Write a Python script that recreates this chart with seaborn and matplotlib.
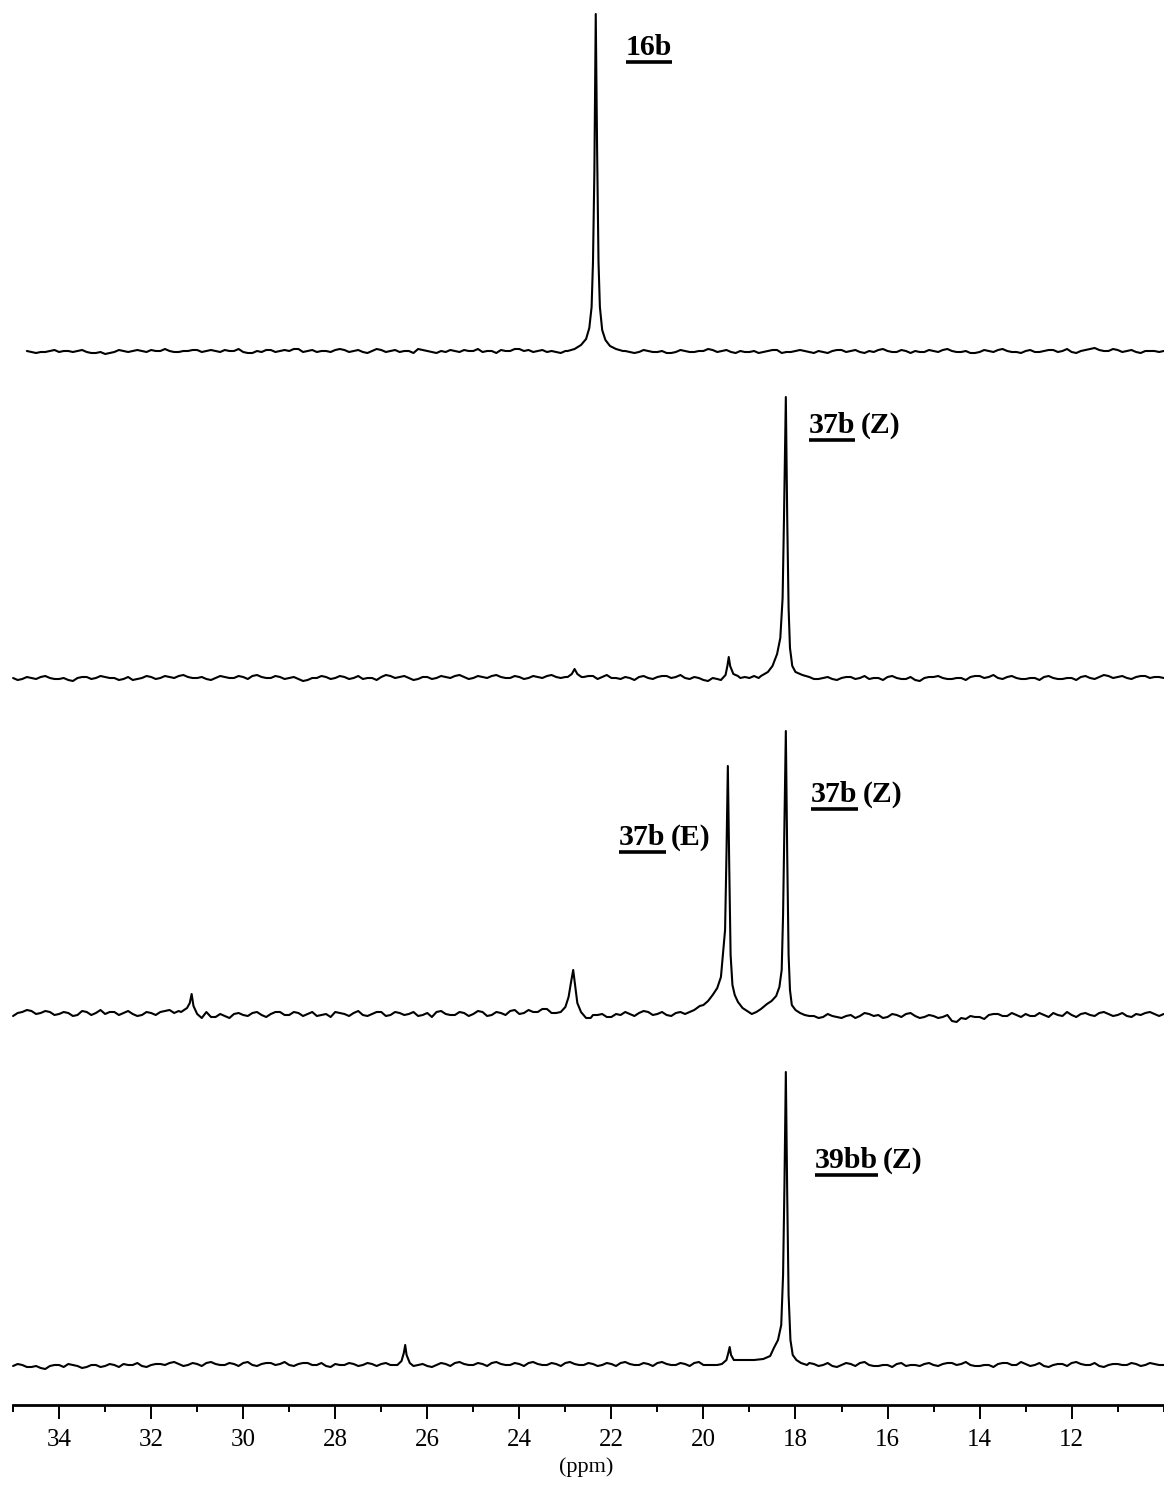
import numpy as np
import pandas as pd
import matplotlib
matplotlib.use("Agg")
import matplotlib.pyplot as plt
from matplotlib.lines import Line2D
import seaborn as sns

# baseline sampling: ppm 35.0 -> 10.0 (0.2 steps) and the in-between points 34.9 -> 10.1
grid_ppm = np.round(35.0 - 0.2 * np.arange(126), 2)
half_ppm = np.round(34.9 - 0.2 * np.arange(125), 2)

# baseline wiggle (pixel-ish units, 0 = baseline)
noise_16b = [0, 0, 0, 0, 1, 0, 1, 1, 0, -1,
             -2, 0, 1, 1, 1, 2, 1, 1, 0, 1,
             2, 1, 1, 2, 1, 0, -1, 0, 2, 1,
             1, 3, 1, 0, 1, 2, 2, 1, 0, 1,
             2, 1, 0, 1, 3, 1, -1, 0, 1, 2,
             1, 0, 1, 2, 1, 3, 2, 1, 0, 0,
             1, 2, 1, 0, 0, 0, 0, 0, 0, 1,
             0, -1, 0, 1, 0, 1, 2, 1, 0, 1,
             0, -1, 1, 2, 0, 1, 1, -1, 0, 1,
             2, 1, 0, 1, 2, 1, 0, 1, 1, 0,
             1, 2, 1, 0, -1, 0, 1, 2, 1, 0,
             1, 0, 1, 2, 1, 0, 1, 3, 2, 1,
             2, 1, 0, 1, 1, 1]
half_16b = [0, 1, -1, 0, 2, 1, 0, 2, -1, 0,
            -1, 2, 0, 2, 0, 1, 3, 0, 1, 2,
            0, 2, 0, 1, 3, -1, 1, 2, 0, 2,
            3, 0, 2, 1, 0, 3, 0, 2, -1, 3,
            0, 2, 1, -1, 2, 0, 1, 2, 0, 1,
            3, 1, -1, 1, 3, 1, 0, 2, 1, -1,
            0, 0, 0, 0, 0, 0, 1, -1, 2, 0,
            1, -1, 2, 0, 1, 3, 0, 2, -1, 0,
            1, 0, 2, -1, 0, 2, 0, 1, -1, 2,
            0, 2, -1, 0, 3, 0, 2, -1, 0, 2,
            0, 3, 0, 1, -1, 2, 0, 3, 0, -1,
            2, 0, 2, 0, 3, -1, 2, 4, 1, 3,
            0, 2, -1, 1, 0]

noise_37b = [0, -1, 0, 1, 0, -1, -2, 0, 1, 0,
             1, 0, -1, -2, 0, 1, 0, 1, 2, 1,
             0, -1, 0, 1, 0, 1, 2, 1, 0, 1,
             0, -1, -2, 0, 1, 0, 1, 0, -1, 0,
             1, 2, 1, 0, -1, 1, 0, 1, 2, 1,
             0, 1, 2, 1, 0, 1, 0, 1, 2, 1,
             1, 0, 1, 2, 1, 0, -1, 0, 1, 0,
             1, 2, 1, 0, 1, -2, 0, 0, 0, 0,
             0, 0, 0, 0, 0, 0, 0, -1, 0, -1,
             0, 1, 0, -1, 0, 1, 0, -1, -2, 0,
             1, 0, -1, 0, 1, 2, 1, 0, 1, 0,
             -1, 0, 1, 0, -1, 0, 1, 0, 1, 2,
             1, 0, 1, 2, 1, 0]
half_37b = [-2, 1, -1, 2, -1, 0, -3, 1, -1, 2,
            0, -2, 1, -1, 2, -1, 2, 0, 3, 0,
            1, -2, 2, 0, 2, -1, 3, 0, 2, -1,
            1, -3, 0, 2, -1, 2, -1, 2, 0, -2,
            3, 0, 2, -2, 1, -1, 2, 0, 3, -1,
            2, 0, 3, 0, 2, -1, 2, 0, 3, 0,
            0, 0, 2, -1, 3, 0, 1, -2, 2, -1,
            2, 0, 3, -1, 0, -3, -1, 0, 0, 1,
            2, 0, 0, 0, 0, 0, 0, -1, 1, -2,
            1, -1, 2, 0, -2, 2, -1, 1, -3, 1,
            2, -1, 0, -2, 2, 0, 3, -1, 2, -1,
            0, -2, 2, -1, 0, -2, 2, -1, 3, 0,
            2, -1, 2, 0, 1]

noise_mix = [-1, 3, 4, 2, 3, 1, 2, 0, 3, 2,
             1, 3, 2, 1, 0, 2, 3, 5, 4, 5,
             0, 3, -2, -1, 1, 0, 2, 0, 1, 3,
             0, 2, 1, -1, 1, 3, 1, 2, 0, 1,
             3, 0, 2, 1, -1, 2, 3, 1, 0, 2,
             1, 3, 0, 2, 4, 1, 5, 3, 6, 2,
             0, 0, 0, 0, 1, -2, 0, 1, 2, 3,
             1, 0, 2, 1, 0, 0, 0, 0, 0, 0,
             0, 0, 0, 0, 0, 0, 0, -1, -2, -1,
             -3, 0, -1, 1, 0, -2, 0, 1, -1, -2,
             -1, -2, -6, -3, -1, -2, 0, 1, -1, 0,
             1, -1, 0, 2, -1, 0, 1, 0, 2, 1,
             0, -1, 1, 2, 1, 1]
half_mix = [2, 5, 1, 4, 0, 3, -1, 4, 0, 5,
            3, 0, 4, -1, 3, 0, 4, 2, 6, 0,
            0, -2, 1, -3, 2, -1, 3, -2, 3, 0,
            3, -1, 3, 0, -2, 2, -1, 4, -1, 3,
            -1, 3, 0, 3, 0, -2, 4, 0, 3, -1,
            4, -1, 3, 0, 5, 2, 3, 6, 2, 4,
            0, 0, 0, 0, -2, 1, 3, -1, 4, 0,
            3, -1, 3, 0, 2, 0, 0, 0, 0, 0,
            0, 0, 0, 0, 0, 0, -1, -3, 1, -2,
            -1, -3, 2, -1, -3, 1, -2, 2, -3, 0,
            -3, 0, -7, -4, -2, -4, 1, -1, 2, -2,
            -1, 2, -2, 0, 3, -2, 2, -1, 3, -1,
            2, -2, 0, 3, -1]

noise_39bb = [-1, 0, -2, -3, -1, 0, 1, -1, -2, 0,
              -1, 0, 1, 0, -1, 0, 1, 2, 1, 0,
              1, 2, 1, 0, 1, 2, 0, 1, 2, 1,
              0, 1, 2, 0, -1, 1, 0, 1, 0, 1,
              1, 0, 0, 0, 0, -1, 0, 1, 2, 1,
              0, 1, 2, 1, 0, 1, 2, 1, 0, 1,
              2, 1, 0, 1, 0, 1, 2, 1, 0, 1,
              2, 1, 0, 1, 2, 0, 0, 0, 0, 0,
              0, 0, 0, 0, 0, 0, 0, 1, 0, -1,
              0, 1, 2, 0, -1, 0, 1, -1, 0, 1,
              0, 1, 2, 1, 0, -1, 0, 1, 2, 0,
              1, 0, -1, 0, 1, 2, 1, 0, -1, 0,
              1, 0, 1, 0, 1, 0]
half_39bb = [1, -2, -1, -4, 0, -2, 0, -3, 0, -2,
             1, -2, 0, 2, -2, 1, 0, 3, -1, 2,
             -1, 3, 0, 2, -1, 3, -1, 2, 0, 3,
             -1, 2, 0, 2, -2, 0, 2, -1, 2, -1,
             2, 0, 0, 0, 1, -2, 2, -1, 3, 0,
             2, -1, 3, 0, 2, -1, 3, 0, 2, -1,
             3, 0, 2, -1, 2, -1, 3, 0, 2, -1,
             3, 0, 2, -1, 3, 0, 0, 0, 0, 0,
             0, 0, 0, 0, 0, 0, 2, -1, 2, -2,
             2, -1, 3, -1, 0, -2, 2, 0, -1, 2,
             -1, 2, 0, 3, -1, 0, -2, 2, 0, 3,
             -1, 2, -2, 1, -1, 3, 0, 2, -2, 1,
             0, 2, -1, 2, 0]

# peak outlines (ppm, intensity above baseline)
pk16b_ppm = [22.95, 22.8, 22.66, 22.55, 22.48, 22.43, 22.40, 22.37, 22.34, 22.31, 22.28, 22.25, 22.2, 22.13, 22.03, 21.9, 21.75]
pk16b_int = [1, 3, 7, 13, 24, 45, 90, 180, 338, 200, 90, 45, 22, 12, 6, 3, 1]

pk37b_a_ppm = [22.95, 22.86, 22.8, 22.74, 22.65]
pk37b_a_int = [1, 4, 9, 4, 1]
pk37b_b_ppm = [19.62, 19.52, 19.48, 19.45, 19.42, 19.35, 19.25]
pk37b_b_int = [-2, 3, 12, 21, 12, 4, 2]
pk37b_c_ppm = [18.75, 18.6, 18.5, 18.4, 18.33, 18.28, 18.25, 18.21, 18.18, 18.15, 18.12, 18.07, 18.0, 17.85, 17.7]
pk37b_c_int = [2, 6, 12, 24, 40, 80, 160, 281, 160, 70, 30, 12, 6, 3, 1]

pkmix_a_ppm = [31.35, 31.22, 31.16, 31.12, 31.08, 31.0, 30.9]
pkmix_a_int = [3, 7, 12, 21, 9, 1, -3]
pkmix_b_ppm = [23.1, 23.0, 22.93, 22.88, 22.83, 22.79, 22.74, 22.66, 22.55, 22.45]
pkmix_b_int = [3, 8, 18, 32, 45, 30, 12, 3, -3, -3]
pkmix_c_ppm = [20.35, 20.2, 20.08, 20.0, 19.9, 19.8, 19.7, 19.62, 19.56, 19.53, 19.5, 19.47, 19.44, 19.41, 19.37,
               19.32, 19.25, 19.15, 19.05, 18.95, 18.85, 18.75, 18.62, 18.52, 18.42, 18.35, 18.3, 18.27, 18.24,
               18.21, 18.18, 18.15, 18.12, 18.08, 18.0, 17.9, 17.8]
pkmix_c_int = [2, 5, 9, 10, 14, 20, 27, 38, 70, 85, 160, 249, 150, 60, 30,
               20, 13, 7, 4, 1, 3, 6, 11, 14, 19, 28, 45, 100, 190,
               284, 160, 60, 25, 10, 5, 2, 0]

pk39bb_a_ppm = [26.65, 26.56, 26.51, 26.48, 26.45, 26.38, 26.3]
pk39bb_a_int = [0, 4, 12, 20, 10, 2, -1]
pk39bb_b_ppm = [19.6, 19.5, 19.46, 19.43, 19.4, 19.34, 19.25]
pk39bb_b_int = [1, 5, 12, 18, 10, 5, 5]
pk39bb_c_ppm = [19.2, 18.9, 18.7, 18.55, 18.47, 18.38, 18.31, 18.27, 18.24, 18.21, 18.18, 18.15, 18.11, 18.06, 17.98, 17.88, 17.75]
pk39bb_c_int = [5, 5, 6, 9, 17, 25, 40, 90, 180, 293, 170, 70, 25, 10, 5, 2, 0]

# stacking: baseline height of each trace above the ppm axis (pixel units)
offsets = {"16b": 1053, "37b": 727, "mix": 390, "39bb": 40}


def build_trace(noise, half, peaks, start=35.1):
    ppm = np.concatenate([grid_ppm, half_ppm])
    base = np.concatenate([np.asarray(noise, float), np.asarray(half, float)])
    keep = ppm <= start
    for p, _ in peaks:
        keep &= ~((ppm >= min(p)) & (ppm <= max(p)))
    x = np.concatenate([ppm[keep]] + [np.asarray(p, float) for p, _ in peaks])
    y = np.concatenate([base[keep]] + [np.asarray(h, float) for _, h in peaks])
    order = np.argsort(-x)
    return x[order], y[order]


traces = {
    "16b": build_trace(noise_16b, half_16b, [(pk16b_ppm, pk16b_int)], start=34.7),
    "37b": build_trace(noise_37b, half_37b, [(pk37b_a_ppm, pk37b_a_int), (pk37b_b_ppm, pk37b_b_int),
                                             (pk37b_c_ppm, pk37b_c_int)]),
    "mix": build_trace(noise_mix, half_mix, [(pkmix_a_ppm, pkmix_a_int), (pkmix_b_ppm, pkmix_b_int),
                                             (pkmix_c_ppm, pkmix_c_int)]),
    "39bb": build_trace(noise_39bb, half_39bb, [(pk39bb_a_ppm, pk39bb_a_int), (pk39bb_b_ppm, pk39bb_b_int),
                                                (pk39bb_c_ppm, pk39bb_c_int)]),
}

frames = []
for name, (x, y) in traces.items():
    frames.append(pd.DataFrame({"ppm": x, "signal": y + offsets[name], "trace": name}))
df = pd.concat(frames, ignore_index=True)

sns.set_style("white")
plt.rcParams["font.family"] = ["Liberation Serif", "DejaVu Serif"]
plt.rcParams["text.color"] = "black"
plt.rcParams["axes.labelcolor"] = "black"
plt.rcParams["xtick.color"] = "black"

W, H = 1164, 1486
fig = plt.figure(figsize=(W / 100, H / 100), dpi=100)
ax_left, ax_right, ax_axis = 8, 1163.7, 1405
ax = fig.add_axes([ax_left / W, (H - ax_axis) / H, (ax_right - ax_left) / W, ax_axis / H])

for name in traces:
    sns.lineplot(data=df[df["trace"] == name], x="ppm", y="signal", color="black",
                 linewidth=1.5, estimator=None, sort=False, ax=ax, clip_on=False)

ax.set_xlim(35.11, 10.0)
ax.set_ylim(0, ax_axis)
for s in ["left", "right", "top"]:
    ax.spines[s].set_visible(False)
ax.spines["bottom"].set_linewidth(2.0)
ax.spines["bottom"].set_color("black")
ax.spines["bottom"].set_bounds(35.0, 10.0)
ax.set_yticks([])
ax.set_ylabel("")
ax.set_xticks(list(range(12, 35, 2)))
ax.set_xticks([10] + list(range(11, 36, 2)), minor=True)
ax.tick_params(axis="x", which="major", direction="out", length=10, width=1.4,
               pad=7, labelsize=18, labelcolor="black", color="black", bottom=True)
ax.tick_params(axis="x", which="minor", direction="out", length=5, width=1.4,
               color="black", bottom=True)
ax.set_xlabel("(ppm)", fontsize=16, labelpad=5, color="black")

# compound labels: (number, suffix, ppm, height of text baseline)
label_num = ["16b", "37b", "37b", "37b", "39bb"]
label_suffix = ["", "(Z)", "(E)", "(Z)", "(Z)"]
label_ppm = [21.68, 17.71, 21.83, 17.66, 17.58]
label_y = [1350, 972, 560, 603, 237]

num_texts = []
for num, xp, yp in zip(label_num, label_ppm, label_y):
    num_texts.append(ax.text(xp, yp, num, fontsize=21.5, fontweight="bold", color="black",
                             ha="left", va="baseline"))
fig.canvas.draw()
renderer = fig.canvas.get_renderer()
inv = fig.transFigure.inverted()
for t, suf, xp, yp in zip(num_texts, label_suffix, label_ppm, label_y):
    bb = t.get_window_extent(renderer=renderer)
    base = ax.transData.transform((xp, yp))[1]
    p0 = inv.transform((bb.x0, base - 6.5))
    p1 = inv.transform((bb.x1, base - 6.5))
    fig.add_artist(Line2D([p0[0], p1[0]], [p0[1], p1[1]], transform=fig.transFigure,
                          color="black", linewidth=2.6, solid_capstyle="butt"))
    if suf:
        ax.annotate(suf, xy=(xp, yp), xytext=(bb.width + 5, 0), textcoords="offset pixels",
                    fontsize=21.5, fontweight="bold", color="black", ha="left", va="baseline")

fig.savefig("out.png", dpi=100)
